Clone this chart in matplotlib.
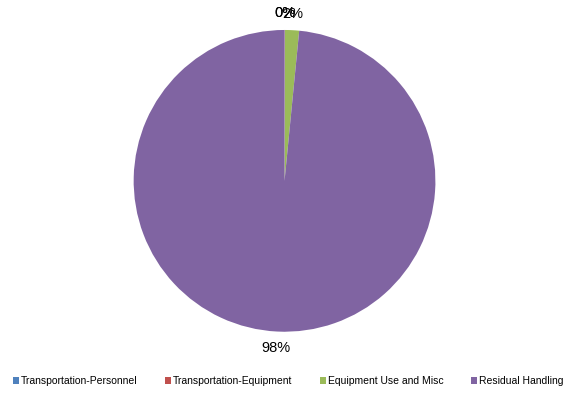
import numpy as np
import matplotlib.pyplot as plt
from matplotlib.patches import Patch

plt.rcParams['font.family'] = ['Liberation Sans', 'DejaVu Sans']

categories = ["Transportation-Personnel", "Transportation-Equipment",
              "Equipment Use and Misc", "Residual Handling"]
values = [0.02, 0.03, 1.5, 98.45]
labels = ["0%", "0%", "2%", "98%"]
colors = ["#4F81BD", "#C0504D", "#9BBB59", "#8064A2"]

fig = plt.figure(figsize=(5.64, 3.94), dpi=100)
ax = fig.add_axes([0.237, 0.158, 0.535, 0.766])

wedges, _ = ax.pie(values, colors=colors, startangle=90, counterclock=False,
                   wedgeprops=dict(linewidth=0))
ax.set_aspect('equal')
ax.set_xlim(-1, 1)
ax.set_ylim(-1, 1)

# percentage labels just outside the pie
for w, lab in zip(wedges, labels):
    ang = np.deg2rad((w.theta1 + w.theta2) / 2)
    r = 1.11
    ax.text(r * np.cos(ang), r * np.sin(ang), lab, ha='center', va='center',
            fontsize=10.5)

handles = [Patch(facecolor=c, edgecolor='none') for c in colors]
fig.legend(handles, categories, loc='center', bbox_to_anchor=(0.511, 0.033),
           ncol=4, frameon=False, fontsize=7.5, handlelength=0.6,
           handleheight=0.6, handletextpad=0.2, columnspacing=2.6)

fig.savefig("out.png", dpi=100)
